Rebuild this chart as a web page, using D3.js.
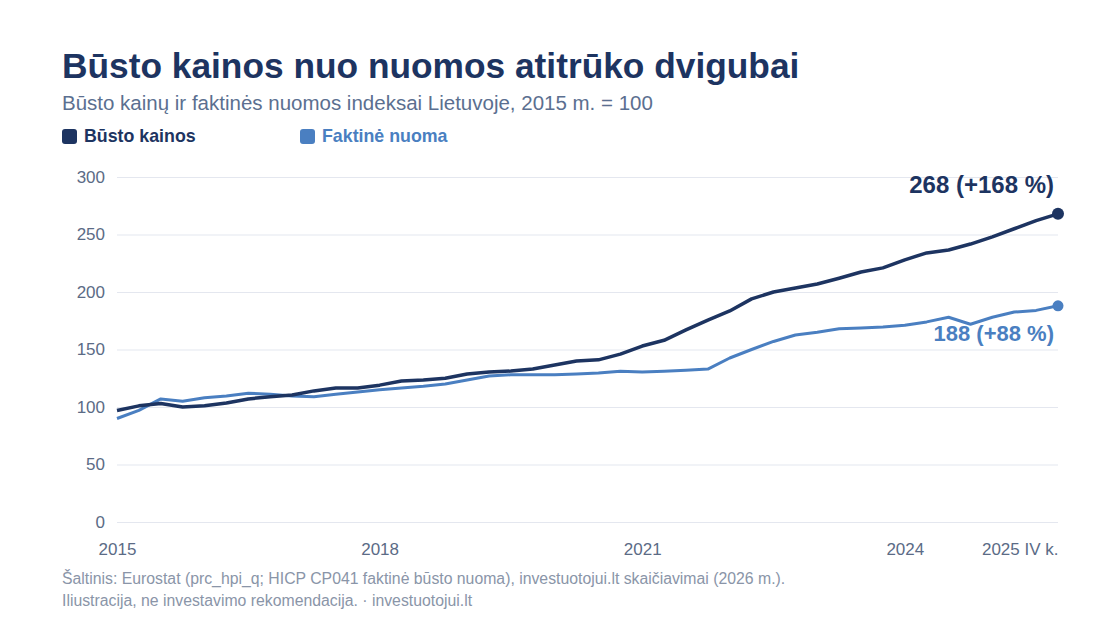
<!DOCTYPE html>
<html lang="lt">
<head>
    <meta charset="UTF-8">
    <title>Būsto kainos nuo nuomos atitrūko dvigubai</title>
    <script src="https://d3js.org/d3.v7.min.js"></script>
    <style>
        body { margin: 0; background: #fff; font-family: "Liberation Sans", Arial, sans-serif; }
        .tick text { font-size: 17px; fill: #5b6b86; }
    </style>
</head>
<body>
    <svg id="chart" width="1120" height="630"></svg>
    <script>
        // ketvirčiai 2015 I k. – 2025 IV k.
        const quarters = d3.range(44);
        const busto = [97, 101, 103, 100, 101, 103.5, 107, 109, 110.5, 114, 116.5, 116.5,
            119, 122.6, 123.5, 125, 128.7, 130.4, 131.3, 133, 136.5, 140, 141, 146,
            153, 158, 167, 175.6, 183.5, 194, 200, 203.5, 207, 212, 217.4, 221,
            228, 234, 236.5, 241.7, 248, 255, 262, 268];
        const nuoma = [90, 97, 107, 105, 108, 109.6, 112, 111, 109.6, 109, 111, 113,
            115, 116.5, 118, 120, 123.5, 127, 128, 128, 128, 128.7, 129.6, 131,
            130.4, 131, 132, 133, 142.6, 150, 157, 162.6, 165, 168, 168.7, 169.6,
            171, 174, 178, 172, 178, 182.6, 184, 188];
        const yTicks = [0, 50, 100, 150, 200, 250, 300];
        const xTicks = [0, 12, 24, 36, 43];
        const xTickLabels = ["2015", "2018", "2021", "2024", "2025 IV k."];

        const dark = "#1d3461", light = "#4a7fc1";
        const svg = d3.select("#chart");
        const x = d3.scaleLinear().domain([0, 43]).range([117, 1058]);
        const y = d3.scaleLinear().domain([0, 300]).range([522, 177]);

        svg.append("text").attr("x", 62).attr("y", 78)
            .style("font-size", "35.3px").style("font-weight", "bold").attr("fill", dark)
            .text("Būsto kainos nuo nuomos atitrūko dvigubai");
        svg.append("text").attr("x", 62).attr("y", 110)
            .style("font-size", "20.5px").attr("fill", "#5b6f90")
            .text("Būsto kainų ir faktinės nuomos indeksai Lietuvoje, 2015 m. = 100");

        const legend = [{ label: "Būsto kainos", color: dark, x: 62 }, { label: "Faktinė nuoma", color: light, x: 300 }];
        legend.forEach(l => {
            svg.append("rect").attr("x", l.x).attr("y", 129).attr("width", 15).attr("height", 15)
                .attr("rx", 3).attr("fill", l.color);
            svg.append("text").attr("x", l.x + 22).attr("y", 142)
                .style("font-size", "17.8px").style("font-weight", "bold").attr("fill", l.color)
                .text(l.label);
        });

        // y ašis ir tinklelis
        const yAxis = svg.append("g").attr("transform", "translate(117,0)")
            .call(d3.axisLeft(y).tickValues(yTicks).tickSize(-941).tickPadding(12));
        yAxis.select(".domain").remove();
        yAxis.selectAll(".tick line").attr("stroke", "#e4e7ef").attr("stroke-width", 1.2);

        const xAxis = svg.append("g").attr("transform", "translate(0,522)")
            .call(d3.axisBottom(x).tickValues(xTicks).tickSize(0).tickPadding(21)
                .tickFormat((d, i) => xTickLabels[i]));
        xAxis.select(".domain").remove();
        xAxis.selectAll(".tick text").filter(d => d === 43).attr("text-anchor", "end");

        const line = d3.line().x((d, i) => x(quarters[i])).y(d => y(d));
        svg.append("path").datum(nuoma).attr("d", line).attr("fill", "none")
            .attr("stroke", light).attr("stroke-width", 3).attr("stroke-linejoin", "round");
        svg.append("path").datum(busto).attr("d", line).attr("fill", "none")
            .attr("stroke", dark).attr("stroke-width", 3.5).attr("stroke-linejoin", "round");

        svg.append("circle").attr("cx", x(43)).attr("cy", y(busto[43])).attr("r", 6).attr("fill", dark);
        svg.append("circle").attr("cx", x(43)).attr("cy", y(nuoma[43])).attr("r", 5.5).attr("fill", light);

        svg.append("text").attr("x", x(43) - 4).attr("y", y(busto[43]) - 21)
            .attr("text-anchor", "end").style("font-size", "24px").style("font-weight", "bold")
            .attr("fill", dark).text(`${busto[43]} (+${busto[43] - 100} %)`);
        svg.append("text").attr("x", x(43) - 4).attr("y", y(nuoma[43]) + 35)
            .attr("text-anchor", "end").style("font-size", "22px").style("font-weight", "bold")
            .attr("fill", light).text(`${nuoma[43]} (+${nuoma[43] - 100} %)`);

        svg.append("text").attr("x", 62).attr("y", 584).style("font-size", "15.8px").attr("fill", "#8a95a8")
            .text("Šaltinis: Eurostat (prc_hpi_q; HICP CP041 faktinė būsto nuoma), investuotojui.lt skaičiavimai (2026 m.).");
        svg.append("text").attr("x", 62).attr("y", 606).style("font-size", "15.8px").attr("fill", "#8a95a8")
            .text("Iliustracija, ne investavimo rekomendacija. · investuotojui.lt");
    </script>
</body>
</html>
